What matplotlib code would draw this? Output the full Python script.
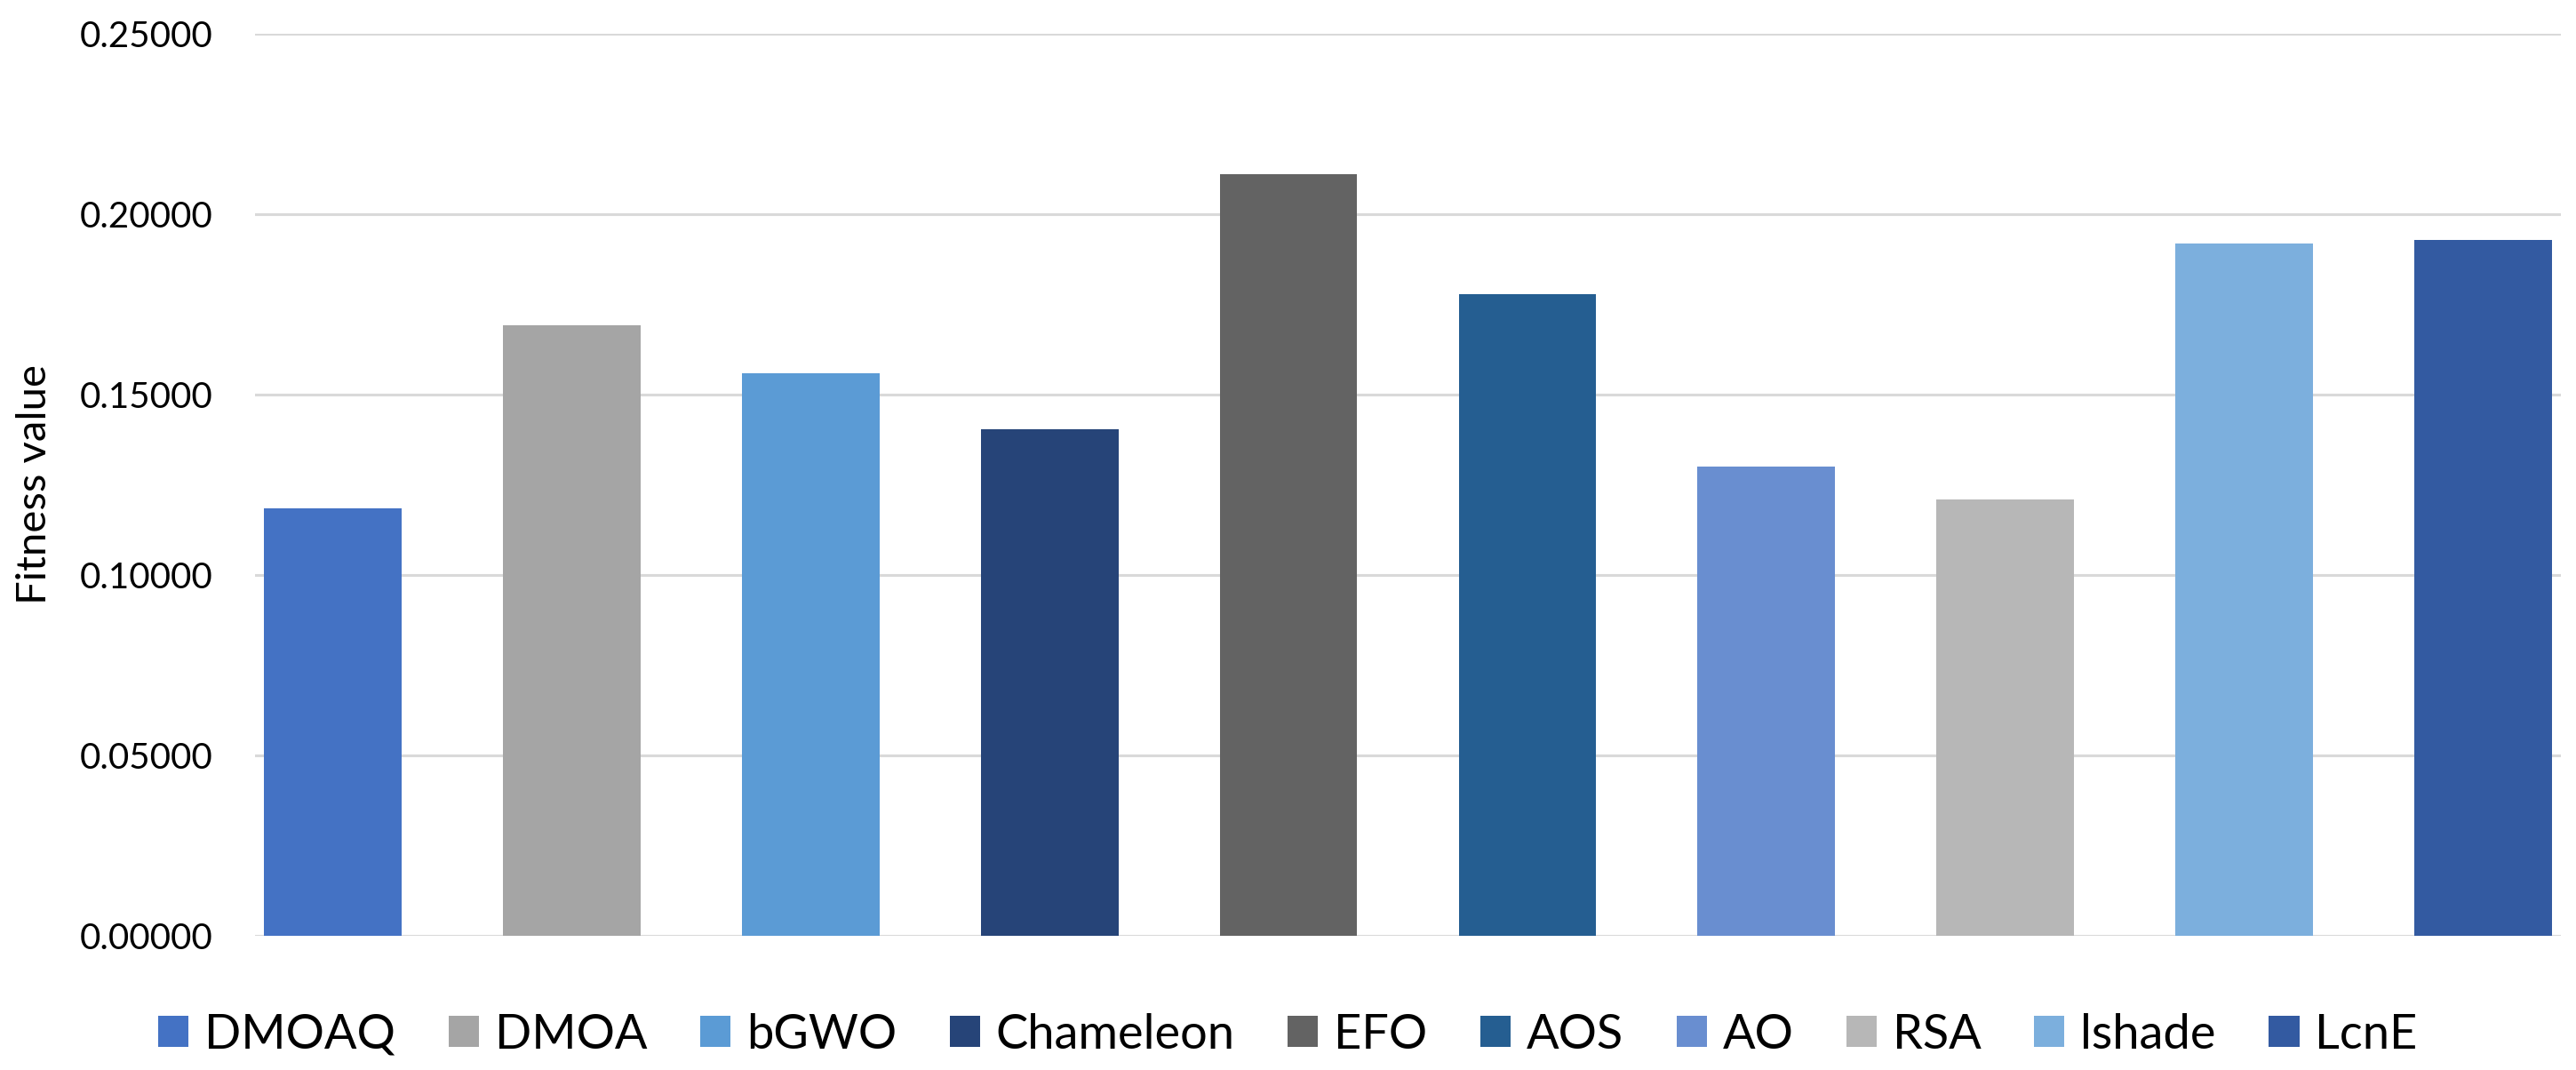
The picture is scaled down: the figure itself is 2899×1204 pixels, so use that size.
import numpy as np
import matplotlib.pyplot as plt
from matplotlib.ticker import FormatStrFormatter

plt.rcParams['font.family'] = ['Lato', 'DejaVu Sans']

# datos
algoritmos = ["DMOAQ", "DMOA", "bGWO", "Chameleon", "EFO", "AOS", "AO", "RSA", "lshade", "LcnE"]
fitness = [0.1185, 0.1691, 0.1558, 0.1405, 0.2110, 0.1778, 0.1301, 0.1209, 0.1918, 0.1928]
colores = ["#4472C4", "#A5A5A5", "#5B9BD5", "#264478", "#636363",
           "#255E91", "#698ED0", "#B7B7B7", "#7CAFDD", "#335AA1"]
yticks = [0.0, 0.05, 0.10, 0.15, 0.20, 0.25]

W, H = 2899, 1204
fig = plt.figure(figsize=(W / 100, H / 100), dpi=100)
ax = fig.add_axes([287 / W, 1 - 1053 / H, (2882 - 287) / W, (1053 - 38) / H])

x = np.arange(len(algoritmos))
barras = ax.bar(x, fitness, width=0.576, color=colores, zorder=3)
for b, nombre in zip(barras, algoritmos):
    b.set_label(nombre)

ax.set_xlim(-0.325, 9.325)
ax.set_ylim(0, 0.25)
ax.set_yticks(yticks)
ax.yaxis.set_major_formatter(FormatStrFormatter('%.5f'))
ax.tick_params(axis='y', length=0, pad=34, labelsize=29)
ax.set_xticks([])
ax.grid(axis='y', color="#D9D9D9", linewidth=2.2, zorder=0)
for s in ax.spines.values():
    s.set_visible(False)

fig.text(39 / W, 1 - 545 / H, "Fitness value", rotation=90,
         ha='center', va='center', fontsize=34)

fig.legend(handles=list(barras), labels=algoritmos, loc='center',
           bbox_to_anchor=(0.5, 1 - 1164 / H), ncol=10, frameon=False,
           fontsize=39, handlelength=0.63, handleheight=0.63,
           handletextpad=0.33, columnspacing=1.1, borderpad=0)

fig.savefig("out.png", dpi=100)
